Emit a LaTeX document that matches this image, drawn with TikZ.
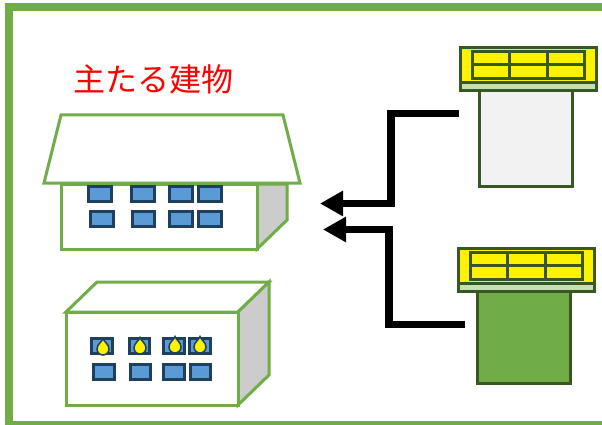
\documentclass[tikz,border=0pt]{standalone}
\usepackage{fontspec}
\newfontfamily\cjk{Noto Sans CJK JP}
\usetikzlibrary{arrows.meta}
\definecolor{frameg}{HTML}{70AD47}
\definecolor{darkg}{HTML}{385723}
\definecolor{paleg}{HTML}{C5E0B4}
\definecolor{winfill}{HTML}{5B9BD5}
\definecolor{winline}{HTML}{1F3F5F}
\definecolor{sidegray}{HTML}{CCCCCC}
\definecolor{bodygray}{HTML}{F2F2F2}
\tikzset{
  x=1pt,y=-1pt,
  framebox/.style={draw=frameg,line width=8pt},
  wall/.style={draw=frameg,line width=3pt,line join=miter,fill=white},
  sidewall/.style={wall,fill=sidegray},
  winbox/.style={draw=winline,line width=3pt,fill=winfill},
  drop/.style={draw=winline,line width=1.5pt,fill=yellow},
  tower/.style={draw=darkg,line width=3pt},
  flow/.style={line width=7.5pt,-{Triangle[length=23pt,width=24pt]}},
  title/.style={text=red,font=\cjk\fontsize{32}{36}\selectfont,inner sep=0pt,anchor=center},
}
\newcommand{\winrow}[2]{\foreach \xa/\xb in {#2}{\draw[winbox] (\xa,#1) rectangle (\xb,#1+15);}}
\newcommand{\dropat}[2]{\draw[drop] (#1,#2-9.5) .. controls (#1+1,#2-6) and (#1+6,#2-4) .. (#1+6,#2+1) arc[start angle=0,end angle=180,radius=6] .. controls (#1-6,#2-4) and (#1-1,#2-6) .. (#1,#2-9.5) -- cycle;}
\newcommand{\towerat}[4]{%
  \begin{scope}[shift={(#1,#2)}]
    \draw[tower,fill=#3] (21,43) rectangle (114,#4);
    \draw[tower,fill=paleg] (2,35) rectangle (138,43);
    \draw[tower,fill=yellow] (2,0) rectangle (138,35);
    \draw[tower,fill=yellow] (14,4) rectangle (126,31);
    \draw[tower] (14,17) -- (126,17);
    \draw[tower] (51,4) -- (51,31);
    \draw[tower] (89,4) -- (89,31);
  \end{scope}}
\begin{document}
\begin{tikzpicture}
\useasboundingbox (0,0) rectangle (602,425);
\fill[white] (0,0) rectangle (602,425);
\draw[framebox] (9,7) rectangle (625,425);

\node[title] (label) at (153,79) {主たる建物};

% main building
\draw[sidewall] (257,184) -- (287,184) -- (287,220) -- (257,249) -- cycle;
\draw[wall] (61,184) rectangle (257,249);
\winrow{186}{88/111,131/154,169/192,198/221}
\winrow{211}{90/113,132/154,169/192,198/221}
\draw[wall] (61,115) -- (283,115) -- (300,183) -- (44,183) -- cycle;

% lower building
\draw[wall] (66,312) -- (97,282) -- (269,282) -- (238,312) -- cycle;
\draw[sidewall] (238,312) -- (269,282) -- (269,375) -- (238,405) -- cycle;
\draw[wall] (66,312) rectangle (238,405);
\winrow{338}{91/112,129/149,163/184,189/210}
\winrow{364}{93/114,130/150,163/184,190/210}
\dropat{103}{348}
\dropat{140}{347}
\dropat{175}{346}
\dropat{200}{346}

% right-hand towers
\towerat{458}{48}{bodygray}{138}
\towerat{456}{248}{frameg}{135}

% connectors
\coordinate (srcA) at (459,113.5);
\coordinate (dstA) at (320,203.5);
\coordinate (srcB) at (464.5,324.5);
\coordinate (dstB) at (323,229.5);
\draw[flow] (srcA) -| (391,203.5) -- (dstA);
\draw[flow] (srcB) -| (389,229.5) -- (dstB);
\end{tikzpicture}
\end{document}
